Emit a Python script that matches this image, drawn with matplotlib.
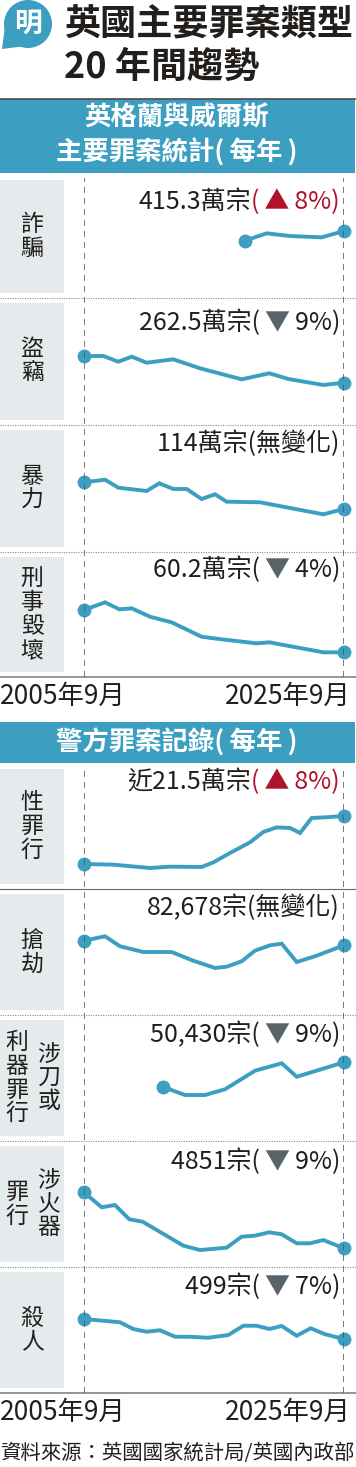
import matplotlib
matplotlib.use('Agg')
import matplotlib.pyplot as plt
from matplotlib.patches import Rectangle, Circle, Polygon
from matplotlib.offsetbox import TextArea, HPacker, AnnotationBbox

plt.rcParams['font.family'] = ['Noto Sans CJK TC', 'DejaVu Sans']

W, H = 356, 1467
BLUE = '#3c9fc2'
INK = '#221e1b'
RED = '#b0122b'
TRI = '#59646a'
BOX = '#e5eaed'
TS = '\u2009'  # thin space

start, end = 2005.75, 2025.75

# 英格蘭與威爾斯 (萬宗)
fraud_x = [2018.13, 2019.80, 2021.60, 2024.03, 2025.75]
fraud_y = [367.8, 404.0, 390.8, 384.4, 415.3]
theft_x = [2005.75, 2007.24, 2008.39, 2009.42, 2010.57, 2012.62, 2014.67, 2017.88,
           2020.01, 2021.47, 2024.16, 2025.75]
theft_y = [369.3, 369.3, 346.5, 366.5, 342.5, 356.1, 320.1, 276.1, 300.1, 277.3, 253.3, 262.5]
violence_x = [2005.75, 2007.37, 2008.39, 2010.57, 2011.54, 2012.62, 2013.65, 2014.80,
              2015.83, 2016.72, 2019.29, 2024.16, 2025.75]
violence_y = [167.4, 172.6, 156.6, 150.0, 165.4, 154.0, 154.0, 134.0, 143.4, 128.6, 127.4, 103.4, 114.0]
damage_x = [2005.75, 2007.37, 2008.47, 2009.42, 2010.83, 2012.49, 2014.80, 2016.34,
            2019.03, 2020.01, 2024.16, 2025.75]
damage_y = [111.0, 120.2, 111.8, 113.0, 102.9, 96.2, 78.9, 75.8, 71.0, 72.2, 60.2, 60.2]

# 警方罪案記錄
sex_x = [2005.75, 2008.01, 2010.83, 2012.37, 2014.80, 2015.70, 2016.98, 2018.52, 2019.54,
         2020.57, 2021.60, 2022.37, 2023.26, 2024.29, 2025.75]
sex_y = [7.1, 6.9, 5.9, 6.3, 6.2, 7.6, 10.4, 13.6, 16.7, 18.1, 17.9, 16.4, 20.9, 21.1, 21.5]  # 萬宗
robbery_x = [2005.75, 2007.37, 2008.52, 2010.31, 2012.49, 2014.16, 2015.83, 2016.72, 2017.88,
             2018.90, 2020.06, 2020.96, 2022.11, 2023.52, 2025.75]
robbery_y = [89100, 95300, 81300, 73300, 73300, 61100, 50900, 52700, 60300, 75100, 82700,
             84900, 59300, 67300, 82678]
knife_x = [2011.85, 2013.52, 2015.06, 2016.60, 2018.90, 2020.96, 2022.11, 2025.75]
knife_y = [31900, 25900, 25900, 30200, 44100, 49700, 39600, 50430]
gun_x = [2005.75, 2007.11, 2008.13, 2009.24, 2010.26, 2013.39, 2014.67, 2016.72, 2017.88,
         2018.90, 2020.01, 2020.96, 2022.11, 2023.13, 2024.16, 2025.75]
gun_y = [11010, 9360, 9610, 8040, 7780, 5140, 4660, 4920, 6130, 6240, 6610, 6390, 5400,
         5400, 5760, 4851]
murder_x = [2005.75, 2008.52, 2009.54, 2010.57, 2011.60, 2012.75, 2013.90, 2015.31, 2016.85,
            2018.01, 2019.03, 2020.01, 2020.96, 2022.11, 2023.19, 2024.29, 2025.75]
murder_y = [659, 633, 579, 557, 569, 517, 517, 509, 531, 605, 605, 579, 603, 525, 585, 537, 499]

names = ['詐騙', '盜竊', '暴力', '刑事毀壞', '性罪行', '搶劫', '涉刀或|利器罪行', '涉火器|罪行', '殺人']
totals = ['415.3萬宗', '262.5萬宗', '114萬宗', '60.2萬宗', '近21.5萬宗',
          '82,678宗', '50,430宗', '4851宗', '499宗']
changes = ['▲8%', '▼9%', '無變化', '▼4%', '▲8%', '無變化', '▼9%', '▼9%', '▼7%']
series = [(fraud_x, fraud_y), (theft_x, theft_y), (violence_x, violence_y), (damage_x, damage_y),
          (sex_x, sex_y), (robbery_x, robbery_y), (knife_x, knife_y), (gun_x, gun_y),
          (murder_x, murder_y)]

# layout (pixels)
rows = [(175, 298), (298, 425), (425, 552), (552, 677),
        (764, 889), (889, 1015), (1015, 1141), (1141, 1267), (1267, 1393)]
ylims = [(87, 690), (93.3, 601.3), (28, 282), (30.6, 180.6),
         (-0.4, 37.1), (-14902, 161498), (-8595, 85905), (2794, 16654), (67, 1075)]
label_y = [202, 323, 444, 570, 782, 908, 1035, 1162, 1287]


def px_rect(x0, y0, x1, y1):
    return [x0 / W, 1 - y1 / H, (x1 - x0) / W, (y1 - y0) / H]


fig = plt.figure(figsize=(W / 100, H / 100), dpi=100)
bg = fig.add_axes([0, 0, 1, 1])
bg.set_xlim(0, W)
bg.set_ylim(H, 0)
bg.axis('off')

# logo + title
bg.add_patch(Circle((28, 24), 24, color=BLUE, lw=0))
bg.add_patch(Polygon([(2, 49), (5, 26), (26, 46)], closed=True, color=BLUE, lw=0))
bg.text(28, 24, '明', color='white', fontsize=20, fontweight='bold', ha='center', va='center')
bg.text(64, 25, '英國主要罪案類型', fontsize=26, fontweight='bold', color=INK, va='center')
bg.text(64, 67, '20 年間趨勢', fontsize=26, fontweight='bold', color=INK, va='center')

# section headers
bg.plot([0, 355], [98.5, 98.5], color='#555555', lw=1.3)
bg.add_patch(Rectangle((0, 99), 355, 74, color=BLUE, lw=0))
bg.text(177, 118, '英格蘭與威爾斯', color='white', fontsize=19, fontweight='bold', ha='center', va='center')
bg.text(177, 153, '主要罪案統計(' + TS + '每年' + TS + ')', color='white', fontsize=19,
        fontweight='bold', ha='center', va='center')
bg.add_patch(Rectangle((0, 722), 355, 41, color=BLUE, lw=0))
bg.text(177, 742, '警方罪案記錄(' + TS + '每年' + TS + ')', color='white', fontsize=19,
        fontweight='bold', ha='center', va='center')

for i, (top, bot) in enumerate(rows):
    bg.add_patch(Rectangle((0, top + 5), 64, bot - top - 10, color=BOX, lw=0))
    name = names[i]
    if '|' in name:
        right, left = name.split('|')
        cy = (top + bot) / 2
        bg.text(49, cy, '\n'.join(right), fontsize=16.5, color=INK, ha='center', va='center', linespacing=1.05)
        bg.text(17, cy, '\n'.join(left), fontsize=16.5, color=INK, ha='center', va='center', linespacing=1.05)
    else:
        bg.text(32, (top + bot) / 2, '\n'.join(name), fontsize=16.5, color=INK,
                ha='center', va='center', linespacing=1.05)
    if i not in (3, 8):
        if i == 4:
            bg.plot([0, W], [bot, bot], color='#666666', lw=0.8)
        else:
            bg.plot([0, W], [bot, bot], color='#8a8a8a', lw=0.8, ls=(0, (1, 1.2)))

    ax = fig.add_axes(px_rect(84, top, 344, bot))
    ax.set_xlim(start, end)
    ax.set_ylim(*ylims[i])
    ax.axis('off')
    xs, ys = series[i]
    ax.plot(xs, ys, color=BLUE, lw=2.8, solid_joinstyle='miter', clip_on=False, zorder=3)
    ax.plot([xs[0], xs[-1]], [ys[0], ys[-1]], 'o', color=BLUE, ms=10, mew=0, clip_on=False, zorder=4)

    ch = changes[i]
    fs = 18
    if ch.startswith('▲'):
        parts = [(totals[i], INK), ('(' + TS + '▲' + TS + ch[1:] + ')', RED)]
    elif ch.startswith('▼'):
        parts = [(totals[i] + '(' + TS, INK), ('▼', TRI), (TS + ch[1:] + ')', INK)]
    else:
        parts = [(totals[i] + '(' + ch + ')', INK)]
    boxes = [TextArea(s, textprops=dict(color=c, fontsize=fs)) for s, c in parts]
    pack = HPacker(children=boxes, align='baseline', pad=0, sep=0)
    bg.add_artist(AnnotationBbox(pack, (340, label_y[i]), xycoords='data',
                                 box_alignment=(1, 0.5), frameon=False, pad=0))

# dashed guides at first / last date for each section
for top, bot in [(178, 677), (768, 1393)]:
    g = fig.add_axes(px_rect(84, top, 344, bot))
    g.set_xlim(start, end)
    g.axis('off')
    g.patch.set_alpha(0)
    for d in (start, end):
        g.axvline(d, color='#5a5550', lw=1.1, dashes=(4, 3.2), zorder=1)

for y in (677, 1393):
    bg.plot([0, W], [y, y], color='#8c8c8c', lw=1.3)
    bg.text(0, y + 19, '2005年9月', fontsize=19, color=INK, ha='left', va='center')
    bg.text(351, y + 19, '2025年9月', fontsize=19, color=INK, ha='right', va='center')

bg.text(0, 1453, '資料來源：英國國家統計局/英國內政部', fontsize=14.7, color=INK, ha='left', va='center')

fig.savefig('out.png', dpi=100)
